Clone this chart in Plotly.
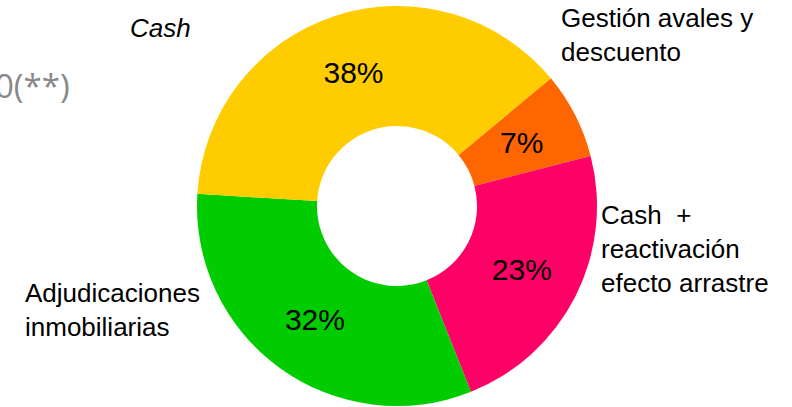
import math
import plotly.graph_objects as go

# Data
categories = ["Gestión avales y descuento", "Cash + reactivación efecto arrastre",
              "Adjudicaciones inmobiliarias", "Cash"]
values = [7, 23, 32, 38]
colors = ["#FF6600", "#FF0066", "#00CC00", "#FFCC00"]

# Outside label texts (as shown in the chart)
label_texts = ["Gestión avales y<br>descuento", "Cash  +<br>reactivación<br>efecto arrastre",
               "Adjudicaciones<br>inmobiliarias", "<i>Cash</i>"]
title_fragment = "0(**)"

W, H = 792, 407
FONT = "Liberation Sans, Arial, sans-serif"
ROTATION = 50.3
HOLE = 0.4
CX, CY, R = 397, 206, 200  # pie centre / radius in px (domain below)

total = sum(values)
# first (small) slice label is placed at the mid-ring like the others
templates = ["" if i == 0 else "%{percent:.0%}" for i in range(len(values))]

fig = go.Figure(go.Pie(
    labels=categories,
    values=values,
    marker=dict(colors=colors, line=dict(width=0)),
    hole=HOLE,
    sort=False,
    direction="clockwise",
    rotation=ROTATION,
    textinfo="percent",
    texttemplate=templates,
    textposition="inside",
    insidetextorientation="horizontal",
    textfont=dict(family=FONT, size=30, color="black"),
    domain=dict(x=[(CX - R) / W, (CX + R) / W], y=[(H - CY - R) / H, (H - CY + R) / H]),
    showlegend=False,
    hoverinfo="label+percent",
))

def px(x, y):
    return x / W, 1 - y / H

annotations = []

# percent label for the first slice, at the centre of its ring segment
mid = math.radians(ROTATION + 360 * (values[0] / 2) / total)
rmid = R * (1 + HOLE) / 2
sx, sy = px(CX + rmid * math.sin(mid), CY - rmid * math.cos(mid))
annotations.append(dict(
    x=sx, y=sy, xref="paper", yref="paper", text=f"{round(100 * values[0] / total)}%",
    showarrow=False, xanchor="center", yanchor="middle",
    font=dict(family=FONT, size=30, color="black"),
))

ann_pos = [
    (559, 35, "left"),
    (599, 249, "left"),
    (23, 310, "left"),
    (160, 28, "center"),
]
for txt, (x, y, anchor) in zip(label_texts, ann_pos):
    ax, ay = px(x, y)
    annotations.append(dict(
        x=ax, y=ay, xref="paper", yref="paper", text=txt, showarrow=False,
        xanchor=anchor, yanchor="middle", align="left",
        font=dict(family=FONT, size=26, color="black"),
    ))
gx, gy = px(72, 85)
annotations.append(dict(
    x=gx, y=gy, xref="paper", yref="paper", text=title_fragment, showarrow=False,
    xanchor="right", yanchor="middle",
    font=dict(family="Open Sans, Liberation Sans, sans-serif", size=33, color="#888888"),
))

fig.update_layout(
    width=W, height=H,
    margin=dict(l=0, r=0, t=0, b=0),
    paper_bgcolor="white", plot_bgcolor="white",
    annotations=annotations,
    font=dict(family=FONT),
)

fig.write_html("out.html", config={"displayModeBar": False},
               post_script="document.body.style.margin='0';")
